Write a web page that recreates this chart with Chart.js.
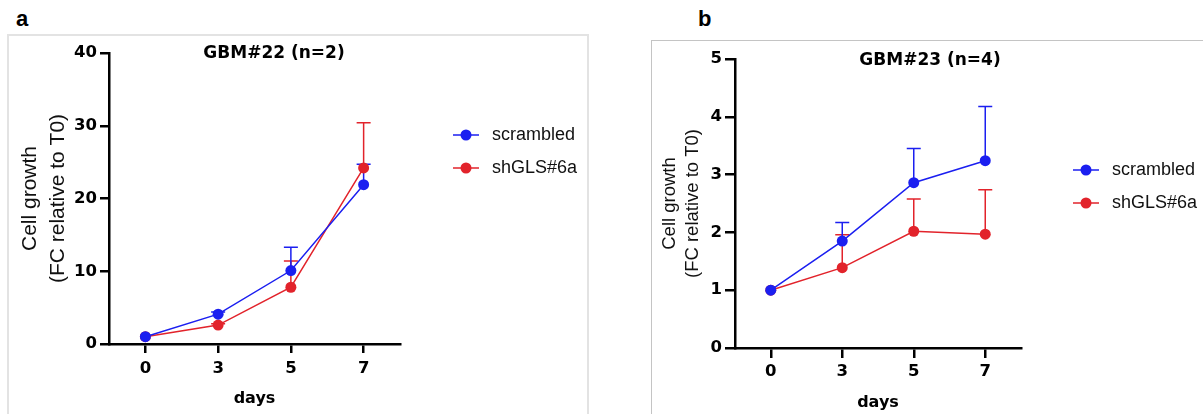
<!DOCTYPE html>
<html>
<head>
<meta charset="utf-8">
<script src="https://cdn.jsdelivr.net/npm/chart.js@4.4.0/dist/chart.umd.min.js"></script>
<style>
  body { margin: 0; background: #fff; width: 1203px; height: 414px; overflow: hidden; position: relative; font-family: 'Liberation Sans', Arial, sans-serif; }
  .box { position: absolute; top: 0; height: 414px; }
  .frame-a { position: absolute; left: 7px; top: 34px; width: 578px; height: 400px; border: 2px solid #e3e3e3; border-bottom: none; }
  .frame-b { position: absolute; left: 651px; top: 40px; width: 600px; height: 400px; border: 1.5px solid #c4c4c4; border-bottom: none; border-right: none; }
  .tag { position: absolute; font-weight: bold; font-size: 22px; color: #000; }
</style>
</head>
<body>
<div class="frame-a"></div>
<div class="frame-b"></div>
<div class="tag" style="left:16px; top:6px;">a</div>
<div class="tag" style="left:698px; top:6px;">b</div>
<div class="box" style="left:0; width:600px;"><canvas id="chart-a" width="600" height="414"></canvas></div>
<div class="box" style="left:600px; width:603px;"><canvas id="chart-b" width="603" height="414"></canvas></div>
<script>
// values (mean, upper SD)
var days = ['0', '3', '5', '7'];
var seriesNames = ['scrambled', 'shGLS#6a'];

var gbm22Scrambled = [1.0, 4.1, 10.1, 21.9];
var gbm22ScrambledSd = [0, 0.3, 3.2, 2.8];
var gbm22Sh = [1.0, 2.6, 7.8, 24.2];
var gbm22ShSd = [0, 0.2, 3.6, 6.2];

var gbm23Scrambled = [1.0, 1.85, 2.86, 3.24];
var gbm23ScrambledSd = [0, 0.32, 0.59, 0.94];
var gbm23Sh = [1.0, 1.39, 2.02, 1.97];
var gbm23ShSd = [0, 0.57, 0.56, 0.77];

var blue = '#1b1ff0';
var red = '#e2232b';
var boldFont = 'DejaVu Sans';
var plainFont = 'Liberation Sans';

// upward-only error bars, drawn under the lines and dots
var errorBars = {
  id: 'errorBars',
  beforeDatasetsDraw: function (chart) {
    var ctx = chart.ctx;
    var yScale = chart.scales.y;
    for (var i = chart.data.datasets.length - 1; i >= 0; i--) {
      var ds = chart.data.datasets[i];
      var meta = chart.getDatasetMeta(i);
      ctx.save();
      ctx.strokeStyle = ds.borderColor;
      ctx.lineWidth = 1.5;
      meta.data.forEach(function (pt, j) {
        var sd = ds.sd[j];
        if (!sd) return;
        var top = yScale.getPixelForValue(ds.data[j] + sd);
        ctx.beginPath();
        ctx.moveTo(pt.x, pt.y);
        ctx.lineTo(pt.x, top);
        ctx.moveTo(pt.x - 7, top);
        ctx.lineTo(pt.x + 7, top);
        ctx.stroke();
      });
      ctx.restore();
    }
  }
};

var panelTitle = {
  id: 'panelTitle',
  afterDraw: function (chart, args, opts) {
    var ctx = chart.ctx;
    ctx.save();
    ctx.font = 'bold 17px ' + boldFont;
    ctx.fillStyle = '#000';
    ctx.textAlign = 'center';
    ctx.textBaseline = 'middle';
    ctx.fillText(opts.text, opts.x, opts.y);
    ctx.restore();
  }
};

var sideLegend = {
  id: 'sideLegend',
  afterDraw: function (chart, args, opts) {
    var ctx = chart.ctx;
    ctx.save();
    chart.data.datasets.forEach(function (ds, i) {
      var y = opts.y[i];
      ctx.strokeStyle = ds.borderColor;
      ctx.lineWidth = 1.5;
      ctx.beginPath();
      ctx.moveTo(opts.x - 13, y);
      ctx.lineTo(opts.x + 13, y);
      ctx.stroke();
      ctx.fillStyle = ds.backgroundColor;
      ctx.beginPath();
      ctx.arc(opts.x, y, 5.5, 0, Math.PI * 2);
      ctx.fill();
      ctx.fillStyle = '#111';
      ctx.font = '18px ' + plainFont;
      ctx.textAlign = 'left';
      ctx.textBaseline = 'middle';
      ctx.fillText(ds.label, opts.textX, y);
    });
    ctx.restore();
  }
};

function makeChart(id, cfg) {
  var ctx = document.getElementById(id).getContext('2d');
  return new Chart(ctx, {
    type: 'line',
    data: {
      labels: days,
      datasets: [
        { label: seriesNames[0], data: cfg.scrambled, sd: cfg.scrambledSd, borderColor: blue, backgroundColor: blue },
        { label: seriesNames[1], data: cfg.sh, sd: cfg.shSd, borderColor: red, backgroundColor: red }
      ]
    },
    options: {
      responsive: false,
      animation: false,
      datasets: {
        line: { borderWidth: 1.5, tension: 0, pointRadius: 5.5, pointBorderWidth: 0, pointHoverRadius: 5.5 }
      },
      layout: { padding: cfg.padding },
      plugins: {
        legend: { display: false },
        tooltip: { enabled: false },
        panelTitle: cfg.title,
        sideLegend: cfg.legend
      },
      scales: {
        x: {
          type: 'category',
          offset: true,
          afterFit: function (s) { s.height = cfg.xHeight; },
          grid: { drawOnChartArea: false, drawTicks: true, tickLength: cfg.tickLen, color: '#000', lineWidth: 2.5 },
          border: { display: true, color: '#000', width: 2.5 },
          ticks: { color: '#000', padding: cfg.xTickPad, font: { family: boldFont, weight: 'bold', size: 16.5 } },
          title: { display: true, text: 'days', color: '#000', padding: { bottom: cfg.daysPad, top: 0 }, font: { family: boldFont, weight: 'bold', size: 16 } }
        },
        y: {
          min: 0,
          max: cfg.yMax,
          afterFit: function (s) { s.width = cfg.yWidth; },
          grid: { drawOnChartArea: false, drawTicks: true, tickLength: cfg.tickLen, color: '#000', lineWidth: 2.5 },
          border: { display: true, color: '#000', width: 2.5 },
          ticks: { stepSize: cfg.yStep, color: '#000', padding: 3, font: { family: boldFont, weight: 'bold', size: 16.5 } },
          title: {
            display: true,
            text: ['Cell growth', '(FC relative to T0)'],
            color: '#111',
            padding: { top: cfg.yTitlePad, bottom: 0 },
            font: { family: plainFont, size: cfg.yTitleSize, lineHeight: cfg.yTitleLine }
          }
        }
      }
    },
    plugins: [errorBars, panelTitle, sideLegend]
  });
}

makeChart('chart-a', {
  scrambled: gbm22Scrambled, scrambledSd: gbm22ScrambledSd,
  sh: gbm22Sh, shSd: gbm22ShSd,
  yMax: 40, yStep: 10,
  padding: { left: 0, top: 53, right: 200, bottom: 0 },
  yWidth: 109, xHeight: 70, tickLen: 9, xTickPad: 6, daysPad: 6,
  yTitlePad: 16, yTitleSize: 21, yTitleLine: 1.333,
  title: { text: 'GBM#22 (n=2)', x: 274, y: 54 },
  legend: { x: 466, textX: 492, y: [135, 168] }
});

makeChart('chart-b', {
  scrambled: gbm23Scrambled, scrambledSd: gbm23ScrambledSd,
  sh: gbm23Sh, shSd: gbm23ShSd,
  yMax: 5, yStep: 1,
  padding: { left: 0, top: 59, right: 182, bottom: 0 },
  yWidth: 135, xHeight: 66, tickLen: 10, xTickPad: 4, daysPad: 2,
  yTitlePad: 58, yTitleSize: 18.5, yTitleLine: 1.243,
  title: { text: 'GBM#23 (n=4)', x: 330, y: 61 },
  legend: { x: 486, textX: 512, y: [170, 203] }
});
</script>
</body>
</html>
